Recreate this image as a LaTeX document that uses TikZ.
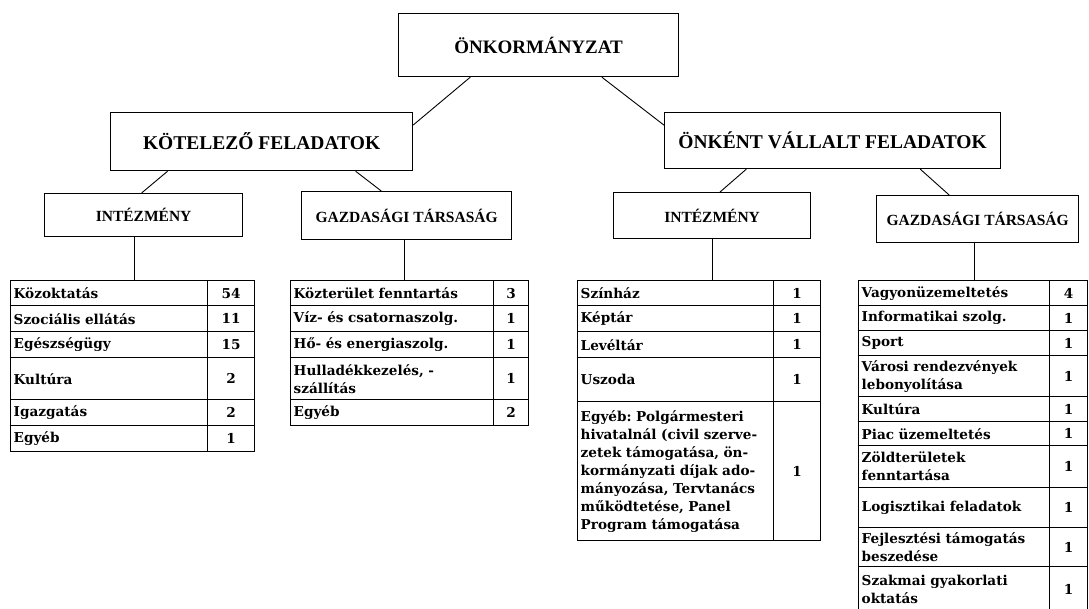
\documentclass[tikz,border=0pt]{standalone}
\usepackage{fontspec}
\setmainfont{Liberation Serif}
\newfontfamily\cellfamily{DejaVu Serif}
\usetikzlibrary{calc}
\frenchspacing
\newcommand\orgrow[8]{%
  \pgfmathsetmacro\orgtw{#3-#2-6}%
  \pgfmathsetmacro\orgnw{#4-#3}%
  \pgfmathsetmacro\orgrh{#6-#5}%
  \node[lab, text width=\orgtw pt, minimum height=\orgrh pt] (#1l) at (#2,#5) {#7};
  \node[num, minimum width=\orgnw pt, minimum height=\orgrh pt] (#1n) at (#3,#5) {#8};}
\begin{document}
\begin{tikzpicture}[x=1pt,y=-1pt,
  hbox/.style={draw, line width=1.2pt, inner sep=0pt, anchor=north west, align=center},
  big/.style={font=\fontsize{19.5}{22}\selectfont\bfseries},
  mid/.style={font=\fontsize{15.5}{18}\selectfont\bfseries},
  lab/.style={draw, line width=1.4pt, anchor=north west, inner xsep=3pt, inner ysep=0pt, align=left, font=\cellfamily\bfseries\fontsize{13.6}{18}\selectfont\frenchspacing},
  num/.style={draw, line width=1.4pt, anchor=north west, inner sep=0pt, align=center, font=\cellfamily\bfseries\fontsize{13.6}{18}\selectfont},
  conn/.style={line width=0.9pt}]
\useasboundingbox (0,0) rectangle (1089,609);
\clip (0,0) rectangle (1089,609);
\fill[white] (0,0) rectangle (1089,609);

% header boxes
\node[hbox, font=\fontsize{19}{22}\selectfont\bfseries, minimum width=280pt, minimum height=63pt] (onk) at (398,13) {ÖNKORMÁNYZAT};
\node[hbox, big, minimum width=302pt, minimum height=58pt] (kot) at (110,112) {KÖTELEZŐ FELADATOK};
\node[hbox, big, minimum width=336pt, minimum height=56pt] (onkent) at (664,112) {ÖNKÉNT VÁLLALT FELADATOK};
\node[hbox, mid, minimum width=198pt, minimum height=43pt] (int1) at (44,193) {INTÉZMÉNY};
\node[hbox, mid, minimum width=210pt, minimum height=48pt] (gazd1) at (301,191) {GAZDASÁGI TÁRSASÁG};
\node[hbox, mid, minimum width=197pt, minimum height=46pt] (int2) at (613,192) {INTÉZMÉNY};
\node[hbox, mid, minimum width=202pt, minimum height=47pt] (gazd2) at (876,195) {GAZDASÁGI TÁRSASÁG};

% table 1
\orgrow{ta1}{10}{207}{254}{280}{305}{Közoktatás}{54}
\orgrow{ta2}{10}{207}{254}{305}{331}{Szociális ellátás}{11}
\orgrow{ta3}{10}{207}{254}{331}{357}{Egészségügy}{15}
\orgrow{ta4}{10}{207}{254}{357}{399}{Kultúra}{2}
\orgrow{ta5}{10}{207}{254}{399}{425}{Igazgatás}{2}
\orgrow{ta6}{10}{207}{254}{425}{451}{Egyéb}{1}

% table 2
\orgrow{tb1}{290}{493}{528}{280}{305}{Közterület fenntartás}{3}
\orgrow{tb2}{290}{493}{528}{305}{331}{Víz- és csatornaszolg.}{1}
\orgrow{tb3}{290}{493}{528}{331}{357}{Hő- és energiaszolg.}{1}
\orgrow{tb4}{290}{493}{528}{357}{399}{Hulladékkezelés, -\\szállítás}{1}
\orgrow{tb5}{290}{493}{528}{399}{425}{Egyéb}{2}

% table 3
\orgrow{tc1}{577}{773}{820}{280}{305}{Színház}{1}
\orgrow{tc2}{577}{773}{820}{305}{331}{Képtár}{1}
\orgrow{tc3}{577}{773}{820}{331}{357}{Levéltár}{1}
\orgrow{tc4}{577}{773}{820}{357}{401}{Uszoda}{1}
\orgrow{tc5}{577}{773}{820}{401}{540}{Egyéb: Polgármesteri\\hivatalnál (civil szerve-\\zetek támogatása, ön-\\kormányzati díjak ado-\\mányozása, Tervtanács\\működtetése, Panel\\Program támogatása}{1}

% table 4
\orgrow{td1}{858}{1049}{1087}{280}{305}{Vagyonüzemeltetés}{4}
\orgrow{td2}{858}{1049}{1087}{305}{330}{Informatikai szolg.}{1}
\orgrow{td3}{858}{1049}{1087}{330}{355}{Sport}{1}
\orgrow{td4}{858}{1049}{1087}{355}{396}{Városi rendezvények\\lebonyolítása}{1}
\orgrow{td5}{858}{1049}{1087}{396}{421}{Kultúra}{1}
\orgrow{td6}{858}{1049}{1087}{421}{445}{Piac üzemeltetés}{1}
\orgrow{td7}{858}{1049}{1087}{445}{487}{Zöldterületek\\fenntartása}{1}
\orgrow{td8}{858}{1049}{1087}{487}{527}{Logisztikai feladatok}{1}
\orgrow{td9}{858}{1049}{1087}{527}{566}{Fejlesztési támogatás\\beszedése}{1}
\orgrow{td10}{858}{1049}{1087}{566}{612}{Szakmai gyakorlati\\oktatás}{1}

% connectors
\draw[conn] ($(onk.south west)!0.257!(onk.south east)$) -- ($(kot.north east)!0.22!(kot.south east)$);
\draw[conn] ($(onk.south west)!0.725!(onk.south east)$) -- ($(onkent.north west)!0.23!(onkent.south west)$);
\draw[conn] ($(kot.south west)!0.19!(kot.south east)$) -- ($(int1.north west)!0.49!(int1.north east)$);
\draw[conn] ($(kot.south west)!0.81!(kot.south east)$) -- ($(gazd1.north west)!0.38!(gazd1.north east)$);
\draw[conn] ($(onkent.south west)!0.244!(onkent.south east)$) -- ($(int2.north west)!0.54!(int2.north east)$);
\draw[conn] ($(onkent.south west)!0.76!(onkent.south east)$) -- ($(gazd2.north west)!0.36!(gazd2.north east)$);

\coordinate (v1) at ($(int1.south west)!0.455!(int1.south east)$);
\coordinate (v2) at ($(gazd1.south west)!0.49!(gazd1.south east)$);
\coordinate (v3) at ($(int2.south west)!0.5!(int2.south east)$);
\coordinate (v4) at ($(gazd2.south west)!0.485!(gazd2.south east)$);
\draw[conn] (v1) -- (v1 |- ta1l.north);
\draw[conn] (v2) -- (v2 |- tb1l.north);
\draw[conn] (v3) -- (v3 |- tc1l.north);
\draw[conn] (v4) -- (v4 |- td1l.north);
\end{tikzpicture}
\end{document}
